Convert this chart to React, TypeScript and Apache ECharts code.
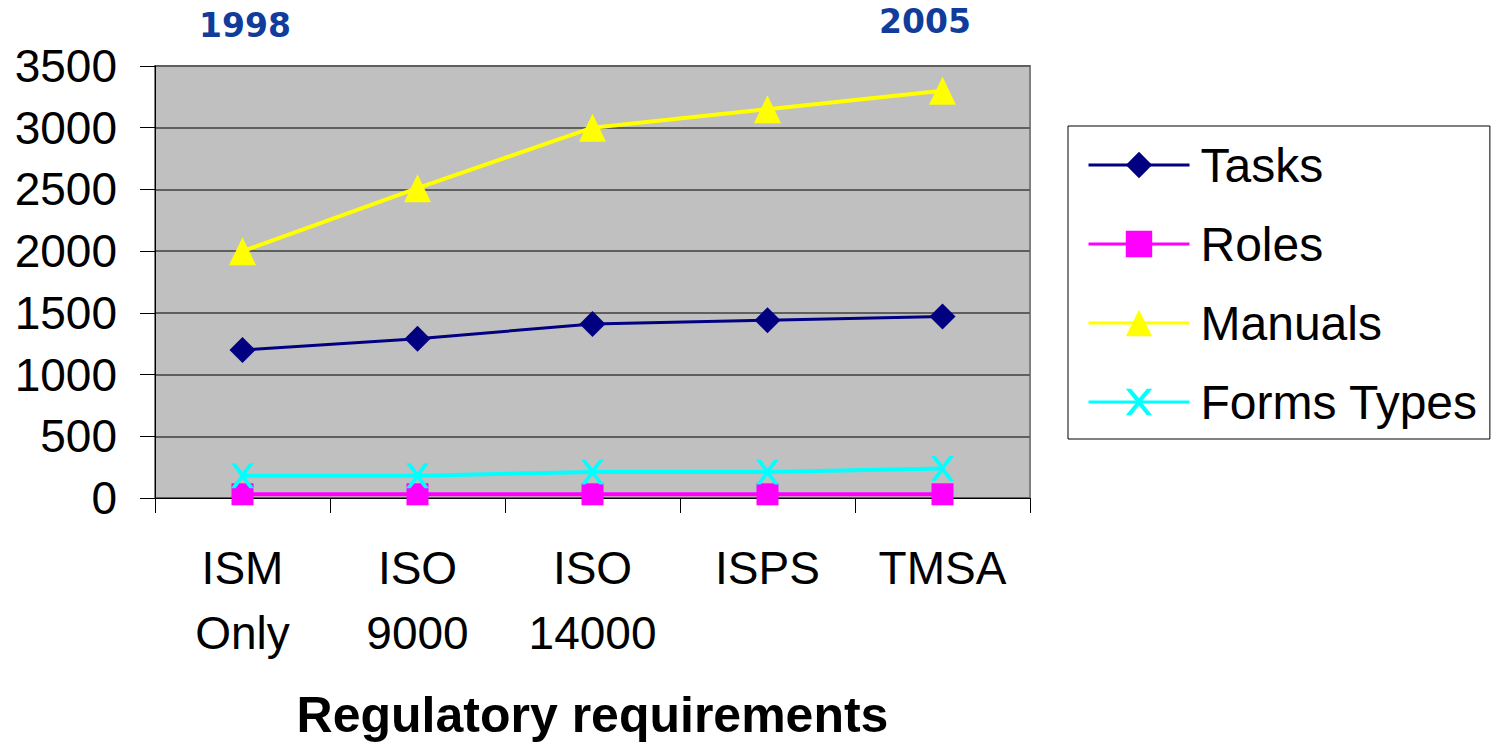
import React, { useEffect, useRef } from "react";
import * as echarts from "echarts";

const categories = ["ISM\nOnly", "ISO\n9000", "ISO\n14000", "ISPS", "TMSA"];
const tasks = [1200, 1290, 1410, 1440, 1470];
const roles = [30, 30, 30, 30, 30];
const manuals = [2000, 2510, 3000, 3150, 3300];
const formsTypes = [180, 180, 210, 210, 240];
const yTicks = { min: 0, max: 3500, interval: 500 };
const yearLabels = ["1998", "2005"];
const axisTitle = "Regulatory requirements";

const FONT = "'Liberation Sans', Arial, sans-serif";
const CROSS = "path://M0,0 L2,0 L5,3.6 L8,0 L10,0 L5.9,5 L10,10 L8,10 L5,6.4 L2,10 L0,10 L4.1,5 Z";

export default function App() {
  const ref = useRef<HTMLDivElement>(null);
  useEffect(() => {
    document.body.style.margin = "0";
    const chart = echarts.init(ref.current!, null, { renderer: "svg" });
    const mk = (name: string, data: number[], color: string, symbol: string, size: any, width: number) => ({
      name,
      type: "line",
      data,
      symbol,
      symbolSize: size,
      lineStyle: { color, width },
      itemStyle: { color },
      z: 3,
    });
    chart.setOption({
      animation: false,
      textStyle: { fontFamily: FONT },
      grid: {
        left: 155,
        right: 465,
        top: 66,
        bottom: 243,
        show: true,
        backgroundColor: "#C0C0C0",
        borderColor: "#808080",
        borderWidth: 2,
      },
      legend: {
        orient: "vertical",
        left: 1068,
        top: 126,
        padding: [14, 12, 12, 19],
        borderColor: "#000",
        borderWidth: 1,
        itemWidth: 101,
        itemHeight: 33,
        itemGap: 29,
        lineStyle: { width: 3 },
        textStyle: { fontSize: 48, color: "#000", lineHeight: 50, fontFamily: FONT, padding: [0, 0, 0, 6] },
        data: ["Tasks", "Roles", "Manuals", "Forms Types"],
      },
      xAxis: {
        type: "category",
        data: categories,
        boundaryGap: true,
        axisLine: { lineStyle: { color: "#000", width: 1 } },
        axisTick: { show: true, inside: false, length: 15, alignWithLabel: false, lineStyle: { color: "#000" } },
        axisLabel: { fontSize: 46, color: "#000", lineHeight: 65, margin: 37, interval: 0, fontFamily: FONT },
        name: axisTitle,
        nameLocation: "middle",
        nameGap: 192,
        nameTextStyle: { fontSize: 50, fontWeight: "bold", color: "#000", fontFamily: FONT },
        splitLine: { show: false },
      },
      yAxis: {
        type: "value",
        min: yTicks.min,
        max: yTicks.max,
        interval: yTicks.interval,
        axisLine: { show: true, lineStyle: { color: "#000", width: 1 } },
        axisTick: { show: true, inside: false, length: 15, lineStyle: { color: "#000" } },
        axisLabel: { fontSize: 46, color: "#000", margin: 38, fontFamily: FONT, formatter: (v: number) => String(v) },
        splitLine: { show: true, lineStyle: { color: "#5f5f5f", width: 2 } },
      },
      graphic: [
        {
          type: "text",
          x: 245,
          y: 25,
          style: {
            text: yearLabels[0],
            fill: "#103C9C",
            font: "bold 33px 'DejaVu Sans', Verdana, sans-serif",
            textAlign: "center",
            textVerticalAlign: "middle",
          },
        },
        {
          type: "text",
          x: 925,
          y: 21,
          style: {
            text: yearLabels[1],
            fill: "#103C9C",
            font: "bold 33px 'DejaVu Sans', Verdana, sans-serif",
            textAlign: "center",
            textVerticalAlign: "middle",
          },
        },
      ],
      series: [
        mk("Tasks", tasks, "#000080", "diamond", 26, 3),
        mk("Roles", roles, "#FF00FF", "rect", 22, 4),
        mk("Manuals", manuals, "#FFFF00", "triangle", [27, 28], 4),
        mk("Forms Types", formsTypes, "#00FFFF", CROSS, [23, 25], 4),
      ],
    });
    return () => chart.dispose();
  }, []);
  return <div ref={ref} style={{ width: 1495, height: 745, position: "absolute", left: 0, top: 0 }} />;
}
